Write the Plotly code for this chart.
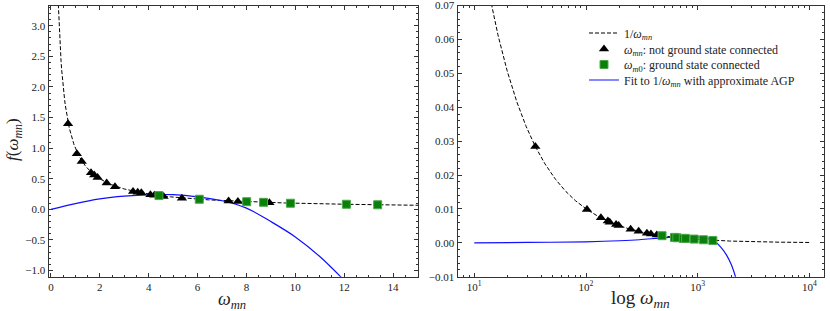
import numpy as np
import plotly.graph_objects as go

# ---------------- data ----------------
# left panel: linear omega
left_tri_x = [0.70, 1.06, 1.26, 1.64, 1.77, 1.91, 2.28, 2.62, 3.36, 3.55, 3.70, 4.07, 4.23, 4.61, 5.36, 7.27, 7.65, 8.94]
left_tri_y = [1.40, 0.91, 0.78, 0.60, 0.56, 0.52, 0.43, 0.37, 0.29, 0.28, 0.27, 0.24, 0.23, 0.21, 0.18, 0.135, 0.13, 0.11]
left_sq_x = [4.42, 6.07, 8.01, 8.70, 9.80, 12.09, 13.37]
left_sq_y = [0.225, 0.165, 0.125, 0.115, 0.10, 0.083, 0.075]
left_fit_x = [0, 1, 2, 3, 4, 5, 6, 7, 8, 9, 10, 11, 12]
left_fit_y = [0.0, 0.095, 0.17, 0.215, 0.238, 0.24, 0.205, 0.14, 0.02, -0.2, -0.45, -0.77, -1.16]

# right panel: log omega
right_tri_x = [35.2, 102, 136, 157, 163, 186, 196, 251, 296, 351, 381, 430]
right_tri_y = [0.0284, 0.0098, 0.0074, 0.0064, 0.0061, 0.0054, 0.0051, 0.0040, 0.0034, 0.0028, 0.0026, 0.0023]
right_sq_x = [479, 619, 650, 743, 778, 929, 1124, 1364]
right_sq_y = [0.0021, 0.0016, 0.0015, 0.0013, 0.0013, 0.0011, 0.0009, 0.0007]
right_fit_x = [10, 30, 100, 200, 300, 450, 600, 800, 1000, 1200, 1400, 1600, 1800, 2000, 2200]
right_fit_y = [0.0, 0.0001, 0.0003, 0.0006, 0.0009, 0.0014, 0.0017, 0.0018, 0.0017, 0.0014, 0.0005, -0.0012, -0.0035, -0.0065, -0.0105]

left_xticks = [0, 2, 4, 6, 8, 10, 12, 14]
left_yticks = [-1.0, -0.5, 0.0, 0.5, 1.0, 1.5, 2.0, 2.5, 3.0]
right_xticks = [10, 100, 1000, 10000]
right_xticktext = ["10<sup>1</sup>", "10<sup>2</sup>", "10<sup>3</sup>", "10<sup>4</sup>"]
right_yticks = [-0.01, 0.0, 0.01, 0.02, 0.03, 0.04, 0.05, 0.06, 0.07]

# the reference curve 1/omega
left_curve_x = np.linspace(0.29, 15.1, 600)
left_curve_y = 1.0 / left_curve_x
right_curve_x = np.logspace(np.log10(13.5), 4, 600)
right_curve_y = 1.0 / right_curve_x

FONT = "Liberation Serif"
GREEN = "#0a800a"
GREEN_EDGE = "#4aa84a"
BLUE = "#1010ff"

lab_curve = "1/<i>ω</i><sub><i>mn</i></sub>"
lab_tri = "<i>ω</i><sub><i>mn</i></sub>: not ground state connected"
lab_sq = "<i>ω</i><sub><i>m</i>0</sub>: ground state connected"
lab_fit = "Fit to 1/<i>ω</i><sub><i>mn</i></sub> with approximate AGP"

fig = go.Figure()

dash_style = "4px,2px"
TRI = 9
SQ = 8

# left panel
fig.add_trace(go.Scatter(x=left_curve_x, y=left_curve_y, mode="lines",
                         line=dict(color="black", width=1, dash=dash_style),
                         xaxis="x", yaxis="y", showlegend=False, hoverinfo="skip"))
fig.add_trace(go.Scatter(x=left_fit_x, y=left_fit_y, mode="lines",
                         line=dict(color=BLUE, width=1.2, shape="spline"),
                         xaxis="x", yaxis="y", showlegend=False))
fig.add_trace(go.Scatter(x=left_tri_x, y=left_tri_y, mode="markers",
                         marker=dict(symbol="triangle-up", size=TRI, color="black"),
                         xaxis="x", yaxis="y", showlegend=False))
fig.add_trace(go.Scatter(x=left_sq_x, y=left_sq_y, mode="markers",
                         marker=dict(symbol="square", size=SQ, color=GREEN,
                                     line=dict(color=GREEN_EDGE, width=1)),
                         xaxis="x", yaxis="y", showlegend=False))

# right panel
fig.add_trace(go.Scatter(x=right_curve_x, y=right_curve_y, mode="lines",
                         line=dict(color="black", width=1, dash=dash_style),
                         xaxis="x2", yaxis="y2", name=lab_curve, legend="legend",
                         hoverinfo="skip"))
fig.add_trace(go.Scatter(x=right_fit_x, y=right_fit_y, mode="lines",
                         line=dict(color=BLUE, width=1.2, shape="spline"),
                         xaxis="x2", yaxis="y2", name=lab_fit, legend="legend4"))
fig.add_trace(go.Scatter(x=right_tri_x, y=right_tri_y, mode="markers",
                         marker=dict(symbol="triangle-up", size=TRI, color="black"),
                         xaxis="x2", yaxis="y2", name=lab_tri, legend="legend2"))
fig.add_trace(go.Scatter(x=right_sq_x, y=right_sq_y, mode="markers",
                         marker=dict(symbol="square", size=SQ, color=GREEN,
                                     line=dict(color=GREEN_EDGE, width=1)),
                         xaxis="x2", yaxis="y2", name=lab_sq, legend="legend3"))

W, H = 830, 311
ydom = [1 - 276.7 / H, 1 - 5.5 / H]

common = dict(showgrid=False, zeroline=False, showline=True, linecolor="#333",
              linewidth=1, mirror="allticks", ticks="inside", ticklen=4,
              tickwidth=0.8, tickcolor="#333", ticklabeloverflow="allow",
              tickfont=dict(family=FONT, size=11, color="#222"))

fig.update_layout(
    width=W, height=H,
    margin=dict(l=0, r=0, t=0, b=0, autoexpand=False),
    paper_bgcolor="white", plot_bgcolor="white",
    font=dict(family=FONT, color="#222"),
    xaxis=dict(domain=[48.5 / W, 418 / W], range=[-0.1, 15.02], anchor="y",
               tickvals=left_xticks, ticktext=[str(v) for v in left_xticks],
               minor=dict(ticks="inside", ticklen=2, dtick=0.5, tick0=0, tickcolor="#333"),
               **common),
    yaxis=dict(domain=ydom, range=[-1.1, 3.33], anchor="x",
               tickvals=left_yticks, ticktext=[f"{v:.1f}".replace("-", "−") for v in left_yticks],
               minor=dict(ticks="inside", ticklen=2, dtick=0.1, tick0=0, tickcolor="#333"),
               **common),
    xaxis2=dict(domain=[457.5 / W, 824 / W], type="log", range=[0.85, 4.13], anchor="y2",
                tickvals=right_xticks, ticktext=right_xticktext,
                minor=dict(ticks="inside", ticklen=2, dtick="D1", tickcolor="#333"),
                **common),
    yaxis2=dict(domain=ydom, range=[-0.01, 0.07001], anchor="x2",
                tickvals=right_yticks, ticktext=[f"{v:.2f}".replace("-", "−") for v in right_yticks],
                minor=dict(ticks="inside", ticklen=2, dtick=0.002, tick0=0, tickcolor="#333"),
                **common),
)

leg_common = dict(xref="paper", yref="paper", xanchor="left", yanchor="middle",
                  bgcolor="rgba(0,0,0,0)", borderwidth=0,
                  font=dict(family=FONT, size=12, color="#222"))
lx = 584 / W
rows = [33, 49, 64.5, 80]
fig.update_layout(
    legend=dict(x=lx, y=1 - rows[0] / H, **leg_common),
    legend2=dict(x=lx, y=1 - rows[1] / H, **leg_common),
    legend3=dict(x=lx, y=1 - rows[2] / H, **leg_common),
    legend4=dict(x=lx, y=1 - rows[3] / H, **leg_common),
)

fig.add_annotation(text="<i>ω</i><sub><i>mn</i></sub>", x=232 / W, y=1 - 300 / H,
                   xref="paper", yref="paper", showarrow=False,
                   xanchor="center", yanchor="middle", font=dict(family=FONT, size=18))
fig.add_annotation(text="log <i>ω</i><sub><i>mn</i></sub>", x=640 / W, y=1 - 299 / H,
                   xref="paper", yref="paper", showarrow=False,
                   xanchor="center", yanchor="middle", font=dict(family=FONT, size=19))
fig.add_annotation(text="<i>f</i>(<i>ω</i><sub><i>mn</i></sub>)", x=14 / W, y=1 - 140 / H,
                   xref="paper", yref="paper", showarrow=False, textangle=-90,
                   xanchor="center", yanchor="middle", font=dict(family=FONT, size=17))

fig.write_html("out.html", config={"displayModeBar": False},
               post_script="document.body.style.margin='0px';document.body.style.overflow='hidden';")
